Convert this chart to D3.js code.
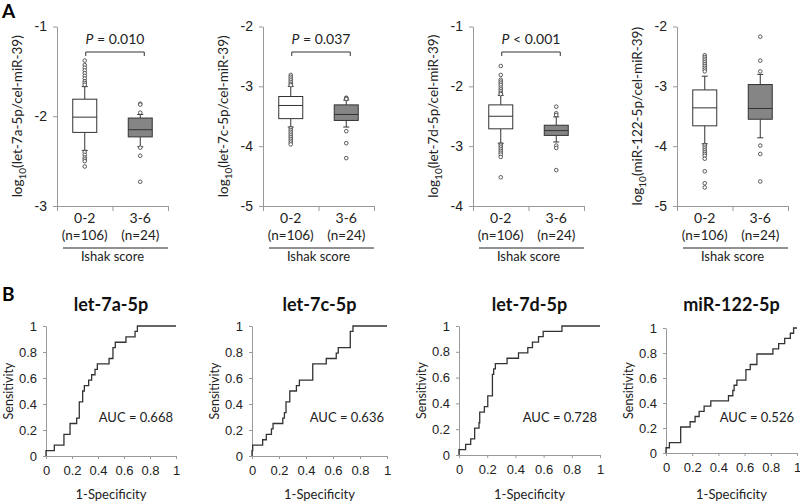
<!DOCTYPE html>
<html>
<head>
<meta charset="utf-8">
<script src="https://cdn.jsdelivr.net/npm/d3@7"></script>
<style>
  body { margin: 0; background: #fff; }
  svg { font-family: Lato, "Open Sans", sans-serif; }
  .axis path, .axis line { stroke: #999; }
  .axis text { fill: #222; }
</style>
</head>
<body>
<svg width="800" height="501"></svg>
<script>
// DATA
const genes = ["let-7a-5p", "let-7c-5p", "let-7d-5p", "miR-122-5p"];
const groups = ["0-2", "3-6"];
const groupN = ["(n=106)", "(n=24)"];
const yDomains = [[-3, -1], [-5, -2], [-4, -1], [-5, -2]];

// box stats per gene: [group 0-2, group 3-6]
const whiskLo = [[-2.38, -2.34], [-3.68, -3.68], [-2.95, -2.93], [-3.96, -3.86]];
const q1 = [[-2.18, -2.23], [-3.54, -3.57], [-2.71, -2.82], [-3.66, -3.55]];
const median = [[-2.01, -2.15], [-3.32, -3.47], [-2.50, -2.74], [-3.36, -3.37]];
const q3 = [[-1.81, -2.02], [-3.17, -3.31], [-2.31, -2.65], [-3.06, -2.97]];
const whiskHi = [[-1.67, -1.98], [-3.00, -3.23], [-2.15, -2.51], [-2.83, -2.80]];
const outliers = [
  [[-1.38, -1.43, -1.46, -1.49, -1.52, -1.55, -1.58, -1.61, -1.63, -1.65,
    -2.40, -2.43, -2.46, -2.48, -2.50, -2.56],
   [-1.86, -1.87, -1.96, -2.35, -2.44, -2.73]],
  [[-2.81, -2.84, -2.87, -2.90, -2.93, -2.96, -2.98,
    -3.70, -3.73, -3.76, -3.79, -3.82, -3.85, -3.88, -3.91, -3.94, -3.97],
   [-3.19, -3.20, -3.21, -3.75, -3.95, -4.20]],
  [[-1.66, -1.81, -1.89, -1.92, -1.95, -1.98, -2.02, -2.05, -2.08, -2.11, -2.13,
    -2.97, -2.99, -3.02, -3.05, -3.08, -3.11, -3.14, -3.18, -3.52],
   [-2.34, -2.45, -2.48, -2.99, -3.03, -3.40]],
  [[-2.48, -2.51, -2.54, -2.57, -2.60, -2.63, -2.66, -2.69, -2.72, -2.75,
    -3.98, -4.01, -4.04, -4.07, -4.10, -4.13, -4.16, -4.21, -4.42, -4.62, -4.69],
   [-2.17, -2.57, -2.75, -3.99, -4.13, -4.59]]
];
const pSign = ["=", "=", "<", null];
const pValue = ["0.010", "0.037", "0.001", null];

// ROC curves: 1-specificity and sensitivity at each step
const rocFpr = [
  [0, 0, 0.064, 0.138, 0.185, 0.236, 0.256, 0.282, 0.295, 0.328, 0.351, 0.377, 0.395, 0.485, 0.515, 0.533, 0.615, 0.685, 0.703, 1],
  [0, 0, 0.005, 0.079, 0.106, 0.144, 0.156, 0.228, 0.24, 0.252, 0.28, 0.329, 0.351, 0.45, 0.55, 0.624, 0.639, 0.728, 0.748, 1],
  [0, 0, 0.047, 0.083, 0.111, 0.142, 0.147, 0.18, 0.204, 0.237, 0.246, 0.258, 0.341, 0.422, 0.488, 0.521, 0.564, 0.597, 0.73, 1],
  [0, 0, 0.026, 0.112, 0.184, 0.222, 0.253, 0.291, 0.342, 0.477, 0.51, 0.52, 0.541, 0.61, 0.643, 0.694, 0.816, 0.86, 0.906, 0.949, 0.974, 1]
];
const rocTpr = [
  [0, 0.042, 0.083, 0.167, 0.25, 0.292, 0.417, 0.5, 0.542, 0.583, 0.625, 0.667, 0.708, 0.75, 0.833, 0.875, 0.917, 0.958, 1, 1],
  [0, 0.042, 0.083, 0.125, 0.167, 0.208, 0.25, 0.292, 0.333, 0.417, 0.5, 0.542, 0.583, 0.708, 0.75, 0.792, 0.833, 0.958, 1, 1],
  [0, 0.042, 0.083, 0.125, 0.208, 0.25, 0.333, 0.375, 0.458, 0.625, 0.667, 0.708, 0.75, 0.792, 0.833, 0.875, 0.917, 0.958, 1, 1],
  [0, 0.042, 0.083, 0.208, 0.25, 0.292, 0.333, 0.375, 0.417, 0.458, 0.5, 0.542, 0.583, 0.667, 0.708, 0.792, 0.833, 0.875, 0.917, 0.958, 1, 1]
];
const aucText = ["AUC = 0.668", "AUC = 0.636", "AUC = 0.728", "AUC = 0.526"];
const rocTicks = [0, 0.2, 0.4, 0.6, 0.8, 1];

// LAYOUT
const boxLeft = [57, 263, 473, 677], boxW = 111, boxTop = 26.5, boxBottom = 206;
const rocLeft = [46, 252, 459, 666], rocW = [130, 135, 141, 131];
const rocTop = [326, 326, 326, 328], rocBottom = [456, 456, 455, 453];
const fillColor = ["#fff", "#858585"];

const svg = d3.select("svg");

svg.append("text").attr("x", 2).attr("y", 18)
  .attr("font-size", 19).attr("font-weight", "bold").text("A");
svg.append("text").attr("x", 2).attr("y", 301)
  .attr("font-size", 19).attr("font-weight", "bold").text("B");

// PANEL A - box plots
genes.forEach((gene, i) => {
  const x0 = boxLeft[i], x1 = x0 + boxW;
  const y = d3.scaleLinear().domain(yDomains[i]).range([boxBottom, boxTop]);
  const xb = d3.scaleBand().domain(groups).range([x0, x1]);
  const cx = (g) => xb(g) + xb.bandwidth() / 2;
  const g = svg.append("g");

  g.append("g").attr("class", "axis")
    .attr("transform", `translate(${x0},0)`)
    .call(d3.axisLeft(y)
      .tickValues(d3.range(yDomains[i][0], yDomains[i][1] + 1))
      .tickFormat((d) => String(d))
      .tickSize(4).tickSizeOuter(0).tickPadding(6))
    .selectAll("text").attr("font-size", 14);

  g.append("g").attr("class", "axis")
    .attr("transform", `translate(0,${boxBottom})`)
    .call(d3.axisBottom(d3.scaleLinear().domain([0, 2]).range([x0, x1]))
      .tickValues([0, 1, 2]).tickFormat("").tickSize(5).tickSizeOuter(0));

  // y label
  const lab = g.append("text")
    .attr("transform", `translate(${x0 - 35},${(boxTop + boxBottom) / 2}) rotate(-90)`)
    .attr("text-anchor", "middle").attr("font-size", 13.5).attr("fill", "#222");
  lab.append("tspan").text("log");
  lab.append("tspan").attr("font-size", 10).attr("dy", 4).text("10");
  lab.append("tspan").attr("dy", -4).text(`(${gene}/cel-miR-39)`);

  groups.forEach((grp, k) => {
    const c = cx(grp), hw = 12;
    const bx = g.append("g").attr("stroke", "#333").attr("stroke-width", 1);
    bx.append("line").attr("x1", c).attr("x2", c)
      .attr("y1", y(q3[i][k])).attr("y2", y(whiskHi[i][k]));
    bx.append("line").attr("x1", c).attr("x2", c)
      .attr("y1", y(q1[i][k])).attr("y2", y(whiskLo[i][k]));
    [whiskHi[i][k], whiskLo[i][k]].forEach((v) => {
      bx.append("line").attr("x1", c - 3).attr("x2", c + 3)
        .attr("y1", y(v)).attr("y2", y(v));
    });
    bx.append("rect").attr("x", c - hw).attr("width", hw * 2)
      .attr("y", y(q3[i][k])).attr("height", y(q1[i][k]) - y(q3[i][k]))
      .attr("fill", fillColor[k]);
    bx.append("line").attr("x1", c - hw).attr("x2", c + hw)
      .attr("y1", y(median[i][k])).attr("y2", y(median[i][k]));
    bx.selectAll("circle").data(outliers[i][k]).enter().append("circle")
      .attr("cx", c).attr("cy", (d) => y(d)).attr("r", 1.8)
      .attr("fill", "#fff").attr("stroke-width", 0.8);

    g.append("text").attr("x", c).attr("y", 223).attr("text-anchor", "middle")
      .attr("font-size", 14).attr("fill", "#222").text(grp);
    g.append("text").attr("x", c).attr("y", 240).attr("text-anchor", "middle")
      .attr("font-size", 13.5).attr("fill", "#222").text(groupN[k]);
  });

  g.append("line").attr("x1", x0 + 6).attr("x2", x1).attr("y1", 248).attr("y2", 248)
    .attr("stroke", "#222").attr("stroke-width", 1);
  g.append("text").attr("x", (x0 + x1) / 2).attr("y", 261).attr("text-anchor", "middle")
    .attr("font-size", 13).attr("fill", "#222").text("Ishak score");

  // significance bracket
  if (pValue[i]) {
    const a = cx(groups[0]) + 1, b = cx(groups[1]) + 4, yb = 52;
    g.append("path")
      .attr("d", `M${a},${yb + 4}V${yb}H${b}V${yb + 4}`)
      .attr("fill", "none").attr("stroke", "#333");
    const t = g.append("text").attr("x", (a + b) / 2).attr("y", 44)
      .attr("text-anchor", "middle").attr("font-size", 14).attr("fill", "#222");
    t.append("tspan").attr("font-style", "italic").text("P");
    t.append("tspan").text(` ${pSign[i]} ${pValue[i]}`);
  }
});

// PANEL B - ROC curves
genes.forEach((gene, i) => {
  const x0 = rocLeft[i], x1 = x0 + rocW[i];
  const xs = d3.scaleLinear().domain([0, 1]).range([x0, x1]);
  const ys = d3.scaleLinear().domain([0, 1]).range([rocBottom[i], rocTop[i]]);
  const g = svg.append("g");

  g.append("g").attr("class", "axis")
    .attr("transform", `translate(${x0},0)`)
    .call(d3.axisLeft(ys).tickValues(rocTicks).tickFormat(d3.format("~g"))
      .tickSize(3).tickSizeOuter(0).tickPadding(6))
    .selectAll("text").attr("font-size", 13);

  g.append("g").attr("class", "axis")
    .attr("transform", `translate(0,${rocBottom[i]})`)
    .call(d3.axisBottom(xs).tickValues(rocTicks).tickFormat(d3.format("~g"))
      .tickSize(3).tickSizeOuter(0).tickPadding(7))
    .selectAll("text").attr("font-size", 13);

  const pts = rocFpr[i].map((f, k) => [f, rocTpr[i][k]]);
  g.append("path").datum(pts)
    .attr("d", d3.line().x((d) => xs(d[0])).y((d) => ys(d[1])).curve(d3.curveStepAfter))
    .attr("fill", "none").attr("stroke", "#333").attr("stroke-width", 1.3);

  g.append("text").attr("x", (x0 + x1) / 2).attr("y", 311).attr("text-anchor", "middle")
    .attr("font-size", 18).attr("font-weight", "bold").attr("fill", "#111").text(gene);
  g.append("text").attr("x", x1 - 3).attr("y", 422).attr("text-anchor", "end")
    .attr("font-size", 13).attr("fill", "#222").text(aucText[i]);
  g.append("text")
    .attr("transform", `translate(${x0 - 33},${(rocTop[i] + rocBottom[i]) / 2}) rotate(-90)`)
    .attr("text-anchor", "middle").attr("font-size", 12.5).attr("fill", "#222").text("Sensitivity");
  g.append("text").attr("x", (x0 + x1) / 2).attr("y", 499).attr("text-anchor", "middle")
    .attr("font-size", 13).attr("fill", "#222").text("1-Specificity");
});
</script>
</body>
</html>
